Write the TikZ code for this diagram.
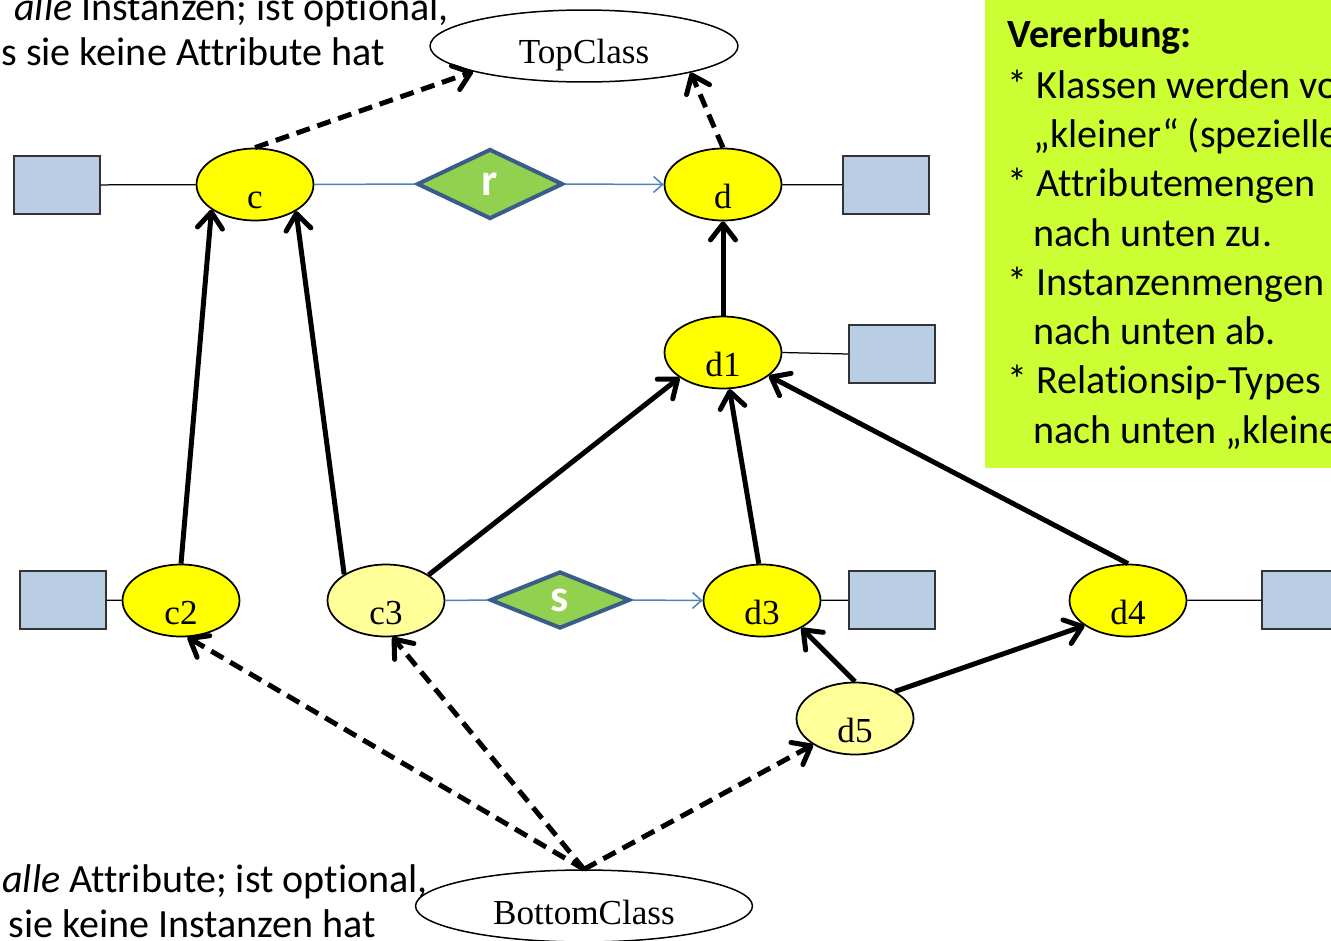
\documentclass[tikz,border=0pt]{standalone}
\usepackage{fontspec}
\setmainfont{Carlito}[Ligatures=NoCommon]
\newfontfamily\timesfont{Liberation Serif}
\usetikzlibrary{shapes.geometric,arrows.meta}

\begin{document}
\begin{tikzpicture}[x=0.02cm, y=-0.02cm,
        klasse/.style={ellipse, draw, line width=0.035cm, fill=classyellow, minimum width=2.34cm, minimum height=1.44cm, inner sep=0pt, text height=0.94cm, text depth=0pt, font=\timesfont\fontsize{20}{24}\selectfont},
        extrem/.style={ellipse, draw, line width=0.03cm, fill=white, minimum height=1.44cm, inner sep=0pt, text height=0.72cm, text depth=0pt, font=\timesfont\fontsize{20}{24}\selectfont},
        attr/.style={draw=black!80, line width=0.035cm, fill=attrblue, minimum width=1.72cm, minimum height=1.16cm, inner sep=0pt},
        beziehung/.style={diamond, draw=relborder, line width=0.08cm, fill=relgreen, inner sep=0pt, text=white, font=\bfseries\fontsize{26}{26}\selectfont},
        isa/.style={line width=0.1cm, -{Straight Barb[round, length=0.32cm, width=0.5cm]}},
        optional/.style={isa, dash pattern=on 0.28cm off 0.16cm},
        hat/.style={line width=0.025cm},
        rel/.style={relline, line width=0.03cm},
        relpfeil/.style={rel, -{Straight Barb[length=0.18cm, width=0.32cm]}},
        note/.style={inner sep=0pt, anchor=base west, font=\fontsize{22.8}{28}\selectfont}]
        \definecolor{classyellow}{RGB}{255,255,0}
        \definecolor{paleyellow}{RGB}{255,255,153}
        \definecolor{attrblue}{RGB}{185,205,229}
        \definecolor{relgreen}{RGB}{146,208,80}
        \definecolor{relborder}{RGB}{56,93,138}
        \definecolor{relline}{RGB}{79,129,189}
        \definecolor{boxgreen}{RGB}{204,255,51}

        \useasboundingbox (0,0) rectangle (1331,940);
        \clip (0,0) rectangle (1331,940);

        % erlaeuterung rechts oben
        \fill[boxgreen] (985,-5) rectangle (1345,468);
        \node[note, font=\bfseries\fontsize{22.8}{28}\selectfont] (t0) at (1007,47) {Vererbung:};
        \node[note] (t1) at (1007,98) {* Klassen werden vo};
        \node[note] (t2) at (1033,147) {„kleiner“ (spezielle};
        \node[note] (t3) at (1007,196) {* Attributemengen};
        \node[note] (t4) at (1033,246) {nach unten zu.};
        \node[note] (t5) at (1007,295) {* Instanzenmengen};
        \node[note] (t6) at (1033,344) {nach unten ab.};
        \node[note] (t7) at (1007,393) {* Relationsip-Types};
        \node[note] (t8) at (1033,443) {nach unten „kleine};

        % texte links
        \node[note] (oben1) at (14,20) {\textit{alle} Instanzen; ist optional,};
        \node[note] (oben2) at (1,65) {s sie keine Attribute hat};
        \node[note] (unten1) at (2,892) {\textit{alle} Attribute; ist optional,};
        \node[note] (unten2) at (8,937) {sie keine Instanzen hat};

        % klassen
        \node[extrem, minimum width=6.16cm] (top) at (584,46) {TopClass};
        \node[extrem, minimum width=6.74cm] (bottom) at (584,906) {BottomClass};
        \node[klasse] (c) at (255,184.5) {c};
        \node[klasse] (d) at (723,184.5) {d};
        \node[klasse] (d1) at (723,352.5) {d1};
        \node[klasse] (c2) at (181,600.5) {c2};
        \node[klasse, fill=paleyellow] (c3) at (386,600.5) {c3};
        \node[klasse] (d3) at (762,600.5) {d3};
        \node[klasse] (d4) at (1128,600.5) {d4};
        \node[klasse, fill=paleyellow] (d5) at (855,718.5) {d5};

        % attribute
        \node[attr] (ac) at (57,185) {};
        \node[attr] (ad) at (886,185) {};
        \node[attr] (ad1) at (892,354) {};
        \node[attr] (ac2) at (63,600) {};
        \node[attr] (ad3) at (892,600) {};
        \node[attr] (ad4) at (1305,600) {};
        \draw[hat] (ac) -- (c);
        \draw[hat] (d) -- (ad);
        \draw[hat] (d1.east) -- (ad1.west);
        \draw[hat] (ac2) -- (c2);
        \draw[hat] (d3) -- (ad3);
        \draw[hat] (d4) -- (ad4);

        % beziehungen
        \node[beziehung, minimum width=2.92cm, minimum height=1.4cm] (r) at (490,184) {r};
        \node[beziehung, minimum width=2.8cm, minimum height=1.14cm] (s) at (560,600) {s};
        \draw[rel] (c.east) -- (r.west);
        \draw[relpfeil] (r.east) -- (d.west);
        \draw[rel] (c3.east) -- (s.west);
        \draw[relpfeil] (s.east) -- (d3.west);

        % vererbung
        \draw[isa] (c2.90) -- (c.210);
        \draw[isa] (c3.148) -- (c.327);
        \draw[isa] (c3.31) -- (d1.210);
        \draw[isa] (d1) -- (d);
        \draw[isa] (d3.95) -- (d1.280);
        \draw[isa] (d4.north) -- (d1.333);
        \draw[isa] (d5.north) -- (d3.325);
        \draw[isa] (d5.34) -- (d4.210);

        % optionale top/bottom
        \draw[optional] (c.north) -- (top.193);
        \draw[optional] (d.north) -- (top.346);
        \draw[optional] (bottom.north) -- (c2.280);
        \draw[optional] (bottom.north) -- (c3.280);
        \draw[optional] (bottom.north) -- (d5.212);
\end{tikzpicture}
\end{document}
